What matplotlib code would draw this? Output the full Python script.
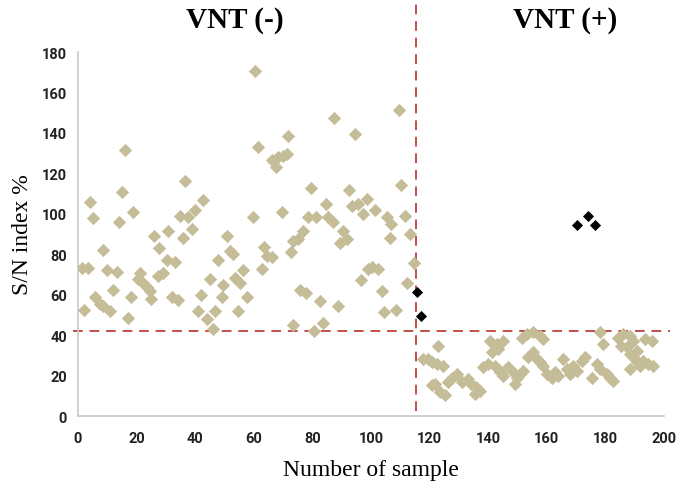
import matplotlib
matplotlib.use("Agg")
import matplotlib.pyplot as plt

# VNT (-) samples (tan)
neg_x = [1.3, 3.4, 4.1, 5.0, 2.0, 5.8, 7.5, 8.6, 10.9, 8.7, 9.8, 13.2, 11.8, 14.0,
         14.9, 16.0, 17.2, 18.1, 18.8, 21.2, 20.5, 22.3, 23.4, 24.6, 24.9, 26.0,
         27.7, 27.4, 29.1, 30.3, 33.0, 30.7, 32.0, 34.2, 34.8, 36.5, 35.9, 37.5,
         38.8, 40.0, 42.7, 40.8, 42.0, 43.9, 46.2, 46.8, 45.0, 47.9, 49.0, 49.6,
         50.7, 52.0, 53.0, 53.6, 54.7, 55.3, 56.4, 57.6, 59.6, 60.4, 61.5, 62.7,
         63.6, 64.4, 66.1, 66.1, 67.6, 68.4, 70.0, 71.2, 69.7, 71.8, 72.7, 73.5,
         75.2, 76.9, 73.5, 75.8, 77.8, 78.6, 79.5, 80.7, 81.4, 82.6, 83.5, 84.6,
         85.4, 86.9, 87.5, 88.8, 89.4, 90.5, 91.7, 92.6, 93.4, 94.5, 95.6, 96.6,
         97.3, 98.5, 99.0, 100.5, 102.5, 101.4, 103.6, 104.6, 105.3, 106.5, 107.0,
         108.5, 109.7, 110.4, 111.6, 112.2, 113.3, 114.7]
neg_y = [73, 73, 106, 98, 52.6, 59, 55.4, 54.3, 52, 82, 72, 71, 62.5, 96,
         111, 131.5, 48.5, 58.7, 101, 70.7, 67.7, 66, 64, 62, 57.9, 89,
         83, 69.4, 70.7, 77, 76, 91.5, 58.7, 57.6, 99, 116, 88, 98.4,
         92.5, 102, 107, 52, 60, 48, 43, 52, 67.8, 77, 59, 64.8,
         89, 81.8, 80, 68.2, 52, 66, 72, 58.7, 98.2, 170.8, 133, 72.7,
         83.4, 79.3, 78.5, 126.8, 123, 128, 128.8, 129.6, 101, 138.6, 81, 86.7,
         87.5, 91.3, 45, 62.5, 60.8, 98.2, 113, 42.2, 98.2, 57, 46, 104.8,
         98.2, 96, 147.2, 54.3, 85.5, 91.3, 87.5, 112, 104, 139.5, 104.8, 67.4,
         100, 107.3, 72.7, 73.5, 72.5, 102, 61.6, 51.2, 98.2, 88, 95,
         52.6, 151.5, 114, 99, 66, 90, 75.7]

# VNT (+) samples (tan)
pos_x = [117.8, 119.6, 120.7, 122.4, 124.7, 123.0, 120.7, 121.8, 123.5, 125.3,
         126.4, 127.5, 129.2, 130.9, 133.2, 134.3, 136.0, 137.2, 135.5,
         138.3, 140.0, 142.3, 141.2, 140.6, 142.9, 145.2, 143.5,
         144.0, 145.2, 146.9, 148.6, 149.8, 149.2, 150.9, 152.0,
         151.4, 153.1, 155.4, 157.7, 158.8,
         153.7, 155.4, 156.5, 157.7, 158.8,
         160.0, 161.7, 162.8, 163.9, 165.6, 166.8, 167.9, 169.0, 170.2, 171.9, 173.0,
         175.3, 177.0, 178.2, 179.3, 178.2, 180.4, 181.6, 182.7,
         184.4, 186.1, 188.4, 189.5, 185.5, 187.3, 188.4, 189.5, 190.7, 191.8,
         193.0, 194.7, 196.4, 188.4, 193.5, 195.8, 190.7]
pos_y = [28.2, 28.2, 26.9, 25.7, 24.9, 34.5, 15.3, 15.8, 11.7, 10.4,
         16.6, 19, 20.8, 17, 18.3, 15.8, 14.2, 12.5, 10.9,
         24, 25.7, 24.6, 31.5, 37.3, 35.6, 37.3, 33,
         21.6, 19.9, 24, 21.6, 19, 15.8, 20.8, 22.4,
         38.8, 40.5, 41.6, 39.6, 38,
         29, 31.5, 28.2, 26.5, 24.9,
         20.8, 19, 21.6, 19.9, 28.2, 23.2, 20.8, 24.9, 22.4, 27.3, 29,
         19, 25.7, 23.2, 35.6, 41.4, 20.8, 19, 17.5,
         38.8, 40.5, 39.4, 37.3, 34.8, 34, 30.7, 29, 26.5, 24.9,
         27.3, 25.7, 24.9, 23.2, 38, 37.3, 32.3]

# misclassified samples (black)
odd_x = [115.6, 117.0, 170.2, 174.2, 176.5]
odd_y = [61.5, 49.3, 94.6, 98.8, 94.6]

cutoff_x = 115.5
cutoff_y = 42

tan = "#c4bd97"
red = "#c0504d"

fig = plt.figure(figsize=(6.81, 4.89), dpi=100)
ax = fig.add_axes([0.1145, 0.1472, 0.8605, 0.7444])

ax.scatter(neg_x, neg_y, marker="D", s=46, color=tan, linewidths=0, zorder=3)
ax.scatter(pos_x, pos_y, marker="D", s=46, color=tan, linewidths=0, zorder=3)
ax.scatter(odd_x, odd_y, marker="D", s=32, color="black", linewidths=0, zorder=4)

ax.plot([cutoff_x, cutoff_x], [2.5, 206], color=red, lw=1.4,
        dashes=(5, 3.5), clip_on=False, zorder=2)
ax.plot([-1.7, 202], [cutoff_y, cutoff_y], color=red, lw=1.4,
        dashes=(5, 3.5), clip_on=False, zorder=2)

ax.set_xlim(0, 200)
ax.set_ylim(0, 180)
ax.set_xticks(range(0, 201, 20))
ax.set_yticks(range(0, 181, 20))
ax.tick_params(axis="x", length=0, pad=11, labelsize=10.5)
ax.tick_params(axis="y", length=0, pad=8, labelsize=10.5)
for lab in ax.get_xticklabels() + ax.get_yticklabels():
    lab.set_fontweight("bold")
    lab.set_family("Roboto")
    lab.set_color("#222222")

for side in ("top", "right"):
    ax.spines[side].set_visible(False)
for side in ("left", "bottom"):
    ax.spines[side].set_color("#c8c8c8")
    ax.spines[side].set_linewidth(1.2)

ax.set_xlabel("Number of sample", family="Liberation Serif", fontsize=17, labelpad=10)
ax.set_ylabel("S/N index %", family="Liberation Serif", fontsize=17, labelpad=6)

fig.text(0.345, 0.958, "VNT (-)", family="Liberation Serif", fontweight="bold",
         fontsize=21, ha="center", va="center")
fig.text(0.830, 0.958, "VNT (+)", family="Liberation Serif", fontweight="bold",
         fontsize=21, ha="center", va="center")

fig.savefig("out.png", dpi=100)
